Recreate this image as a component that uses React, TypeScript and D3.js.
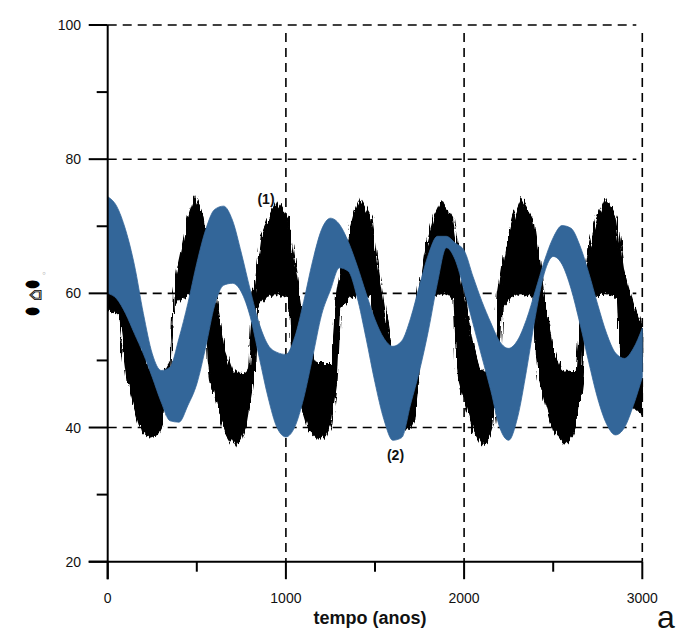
import React from "react";
import * as d3 from "d3";

// ---- data ----
const blueTimes: number[] = d3.range(0, 3001, 50);
const blueUpper: number[] = [
  74.4, 73.0, 69.5, 64.2, 57.0, 51.0, 48.5, 49.0, 53.3, 58.5,
  64.5, 69.5, 72.5, 73.0, 70.9, 66.0, 60.5, 55.5, 52.3, 51.2,
  50.9, 53.5, 58.8, 64.8, 69.5, 71.2, 70.3, 67.7, 64.1, 60.0,
  56.1, 53.3, 52.1, 52.9, 56.3, 61.2, 65.8, 68.5, 68.5, 67.5,
  66.4, 62.5, 58.8, 55.6, 52.8, 51.8, 53.0, 56.1, 60.4, 64.8,
  68.3, 70.1, 69.7, 67.1, 63.0, 58.3, 54.0, 51.1, 50.3, 51.8,
  54.8,
];
const blueLower: number[] = [
  60.0, 59.2, 57.0, 54.0, 51.0, 47.5, 43.8, 41.0, 40.8, 43.3,
  46.5, 52.0, 58.2, 61.2, 61.5, 60.2, 56.5, 50.5, 44.5, 40.0,
  38.6, 40.1, 44.4, 50.5, 56.8, 60.5, 63.8, 63.3, 59.4, 53.3,
  46.7, 41.2, 38.1, 38.5, 43.5, 48.5, 54.5, 61.5, 66.8, 65.0,
  60.5, 55.5, 50.5, 45.5, 40.0, 38.1, 41.5, 48.5, 56.6, 63.0,
  65.5, 64.3, 60.7, 55.5, 49.7, 44.3, 40.5, 38.9, 40.0, 43.3,
  47.5,
];

// black series (1): upper and lower envelope of the dense oscillation, [time, value]
const blackUpper: [number, number][] = [
  [0, 73.8], [10, 74], [70, 71.2], [110, 64], [150, 57.3], [190, 51.5], [230, 48.5],
  [280, 48.2], [320, 48.3], [355, 50], [370, 60], [396, 64.2], [452, 71.2], [490, 74.2],
  [540, 71.2], [580, 64], [620, 57.3], [660, 51.5], [700, 48.5], [750, 48.0], [790, 48.3],
  [820, 60], [864, 68.7], [910, 71.5], [950, 73.7], [1010, 71.2], [1050, 64], [1090, 57.3],
  [1130, 51.5], [1170, 49.5], [1220, 49.5], [1256, 49.5], [1286, 60], [1326, 66.5],
  [1376, 71.5], [1416, 74], [1476, 71.2], [1516, 64], [1556, 57.3], [1596, 51.5],
  [1636, 48.5], [1680, 48.5], [1714, 48.5], [1744, 60], [1784, 66.5], [1834, 71.5],
  [1874, 73.7], [1934, 71.2], [1974, 64], [2014, 57.3], [2054, 51.5], [2094, 48.5],
  [2130, 48.3], [2163, 48.3], [2193, 60], [2233, 66.5], [2283, 71.5], [2323, 74],
  [2383, 71.2], [2423, 64], [2463, 57.3], [2503, 51.5], [2543, 48.5], [2590, 48.3],
  [2631, 48.3], [2661, 60], [2701, 66.5], [2751, 71.5], [2791, 74], [2851, 71.2],
  [2893, 63.5], [2930, 60], [2960, 57.5], [3000, 55],
];
const blackLower: [number, number][] = [
  [0, 57.5], [60, 57], [95, 50], [110, 47], [150, 43], [190, 39.5], [240, 38.4],
  [280, 38.8], [310, 40.5], [350, 47], [370, 58], [420, 59.5], [480, 60], [550, 59.5],
  [565, 50], [580, 47], [620, 43], [660, 39.5], [715, 37.0], [750, 38.5], [780, 40.5],
  [820, 47], [840, 58], [890, 59.5], [950, 60], [1020, 59.5], [1035, 50], [1050, 47],
  [1090, 43], [1130, 39.5], [1180, 38.3], [1220, 38.8], [1250, 40.5], [1286, 47],
  [1306, 58], [1356, 59.5], [1416, 60], [1486, 59.5], [1501, 50], [1516, 47], [1556, 43],
  [1596, 39.5], [1646, 39.5], [1690, 39.8], [1715, 41], [1744, 47], [1764, 58],
  [1814, 59.5], [1874, 60], [1944, 59.5], [1959, 50], [1974, 47], [2014, 43], [2054, 39.5],
  [2100, 37.5], [2140, 38.5], [2165, 40.5], [2193, 47], [2213, 58], [2263, 59.5],
  [2323, 60], [2393, 59.5], [2408, 50], [2423, 47], [2463, 43], [2503, 39.5], [2565, 37.6],
  [2600, 38.5], [2630, 40.5], [2661, 47], [2681, 58], [2731, 59.5], [2791, 60],
  [2861, 59.5], [2876, 50], [2891, 47], [2921, 44.5], [2960, 43], [3000, 42],
];

const xMajorTicks = [0, 1000, 2000, 3000];
const xMinorTicks = [500, 1500, 2500];
const yMajorTicks = [20, 40, 60, 80, 100];
const yMinorTicks = [30, 50, 70, 90];
const xGrid = [1000, 2000, 3000];
const yGrid = [40, 60, 80, 100];

const FONT = "'Liberation Sans', Arial, sans-serif";

export default function App() {
  const x = d3.scaleLinear().domain([0, 3000]).range([107.7, 642.3]);
  const y = d3.scaleLinear().domain([20, 100]).range([561.7, 25]);

  const blueArea = d3
    .area<number>()
    .x((_, i) => x(blueTimes[i]))
    .y0((_, i) => y(blueLower[i]))
    .y1((_, i) => y(blueUpper[i]))
    .curve(d3.curveMonotoneX)(blueTimes);

  const lineGen = d3
    .line<[number, number]>()
    .x((d) => x(d[0]))
    .y((d) => y(d[1]))
    .curve(d3.curveLinear);
  const blackPoly = lineGen([...blackUpper, ...[...blackLower].reverse()]) + "Z";

  const x0 = x(0);
  const x1 = x(3000);
  const y0 = y(20);

  return (
    <svg
      width={677}
      height={641}
      style={{ position: "absolute", left: 0, top: 0, background: "#fff" }}
      fontFamily={FONT}
    >
      <defs>
        <filter id="jag" x="-3%" y="-8%" width="106%" height="116%">
          <feTurbulence type="fractalNoise" baseFrequency="0.45 0.035" numOctaves={2} seed={7} result="n" />
          <feDisplacementMap in="SourceGraphic" in2="n" scale={9} xChannelSelector="R" yChannelSelector="G" />
        </filter>
        <clipPath id="plot">
          <rect x={x0} y={0} width={x1 - x0 + 1} height={y0} />
        </clipPath>
      </defs>

      {/* grid */}
      {yGrid.map((v) => (
        <line key={"hy" + v} x1={x0} x2={x1 - 6} y1={y(v)} y2={y(v)} stroke="#000" strokeWidth={1.6} strokeDasharray="9,6" />
      ))}
      {xGrid.map((v) => (
        <line key={"vx" + v} x1={x(v)} x2={x(v)} y1={y(100) + 8} y2={y0} stroke="#000" strokeWidth={1.6} strokeDasharray="9,6" />
      ))}

      <g clipPath="url(#plot)">
        {/* series (1) black */}
        <path d={blackPoly} fill="#000" stroke="#000" strokeWidth={1.5} filter="url(#jag)" />
        {/* series (2) blue */}
        <path d={blueArea ?? ""} fill="#336699" stroke="#336699" strokeWidth={0.8} />
      </g>

      {/* axes */}
      <line x1={x0} x2={x0} y1={y(100)} y2={y0 + 17.5} stroke="#000" strokeWidth={2} />
      <line x1={x0 - 19} x2={x1} y1={y0} y2={y0} stroke="#000" strokeWidth={2} />
      {yMajorTicks.map((v) => (
        <g key={"ym" + v}>
          <line x1={x0 - 19} x2={x0} y1={y(v)} y2={y(v)} stroke="#000" strokeWidth={2} />
          <text x={81} y={y(v) + 5} fontSize={14} textAnchor="end" fill="#111">
            {v}
          </text>
        </g>
      ))}
      {yMinorTicks.map((v) => (
        <line key={"yn" + v} x1={x0 - 11} x2={x0} y1={y(v)} y2={y(v)} stroke="#000" strokeWidth={2} />
      ))}
      {xMajorTicks.map((v) => (
        <g key={"xm" + v}>
          <line x1={x(v)} x2={x(v)} y1={y0} y2={y0 + 17.5} stroke="#000" strokeWidth={2} />
          <text x={x(v)} y={603} fontSize={14} textAnchor="middle" fill="#111">
            {v}
          </text>
        </g>
      ))}
      {xMinorTicks.map((v) => (
        <line key={"xn" + v} x1={x(v)} x2={x(v)} y1={y0} y2={y0 + 10} stroke="#000" strokeWidth={2} />
      ))}

      {/* labels */}
      <text x={370} y={624} fontSize={18} fontWeight="bold" textAnchor="middle" fill="#111">
        tempo (anos)
      </text>
      <text x={657} y={628} fontSize={32} fill="#111">
        a
      </text>
      <text x={266} y={204} fontSize={14} fontWeight="bold" textAnchor="middle" fill="#111">
        (1)
      </text>
      <text x={395.5} y={460} fontSize={14} fontWeight="bold" textAnchor="middle" fill="#111">
        (2)
      </text>
      {/* y-axis symbol label (garbled symbol glyphs in the original) */}
      <g fill="#000" fontFamily="'DejaVu Sans', sans-serif">
        <text transform="translate(32.5,310) scale(1.15,0.62)" fontSize={16} textAnchor="middle" dominantBaseline="central">●</text>
        <text transform="translate(33.5,295) rotate(-90)" fontSize={19} textAnchor="middle" dominantBaseline="central" fill="#fff" stroke="#000" strokeWidth={0.9}>⌂</text>
        <text transform="translate(32.5,283.5) scale(1.15,0.62)" fontSize={16} textAnchor="middle" dominantBaseline="central">●</text>
        <text transform="translate(44.5,273.5) rotate(-90)" fontSize={8} textAnchor="middle" dominantBaseline="central" fill="#777">◦</text>
      </g>
    </svg>
  );
}
